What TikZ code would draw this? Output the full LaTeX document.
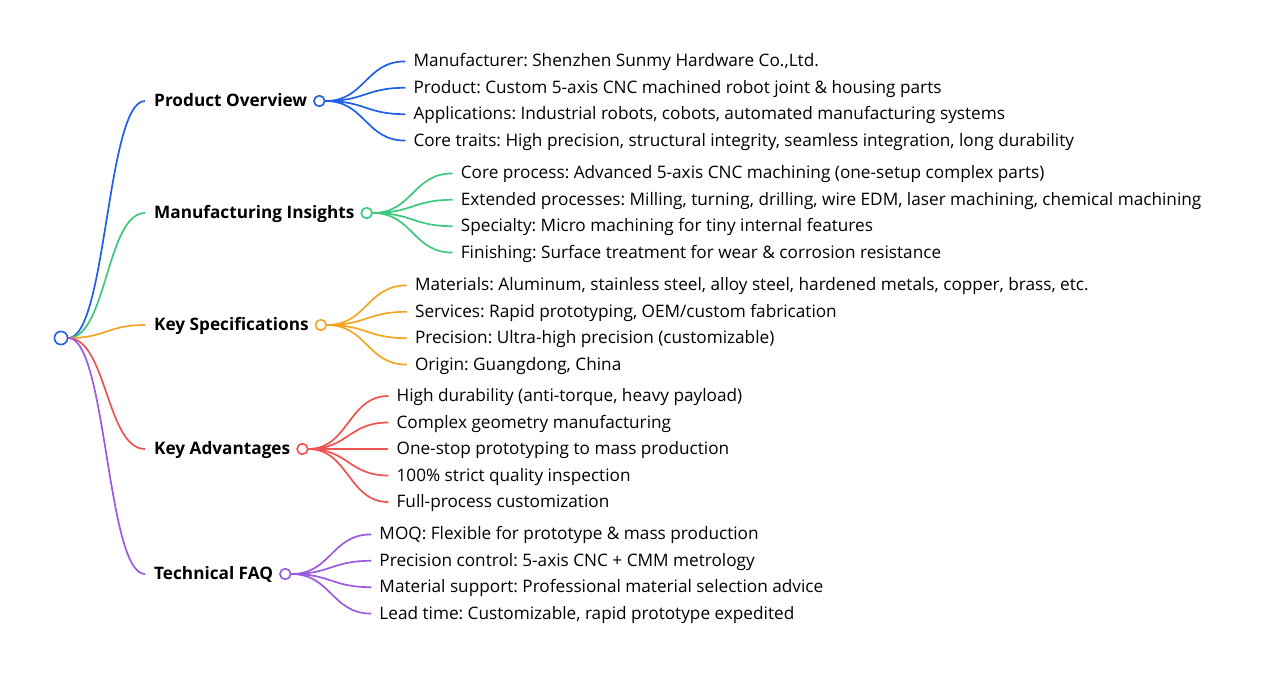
\documentclass[tikz,border=0pt]{standalone}
\usepackage{fontspec}
\setmainfont{Open Sans}
\usetikzlibrary{positioning, calc}
\definecolor{cblue}{HTML}{1F5FE6}
\definecolor{cgreen}{HTML}{3DC97C}
\definecolor{corange}{HTML}{F5A524}
\definecolor{cred}{HTML}{EF5350}
\definecolor{cpurple}{HTML}{9B5BE0}
\frenchspacing
\tikzset{
  topic/.style={anchor=west, inner xsep=9pt, inner ysep=2pt, text height=13.5pt, text depth=2.5pt,
    font=\fontsize{17.2}{20}\selectfont\bfseries},
  leaf/.style={anchor=west, inner xsep=8pt, inner ysep=1pt, text height=13.5pt, text depth=2.5pt,
    font=\fontsize{17.2}{20}\selectfont},
  dot/.style={circle, draw=#1, fill=white, line width=1.5pt, inner sep=0pt, minimum size=10.5pt},
  link/.style={line width=1.7pt, draw=#1},
}
% horizontal s-curve between two anchors
\newcommand{\curvelink}[3]{%
  \draw[#1] let \p1=(#2), \p2=(#3) in
    (\p1) .. controls ({(\x1+\x2)/2},\y1) and ({(\x1+\x2)/2},\y2) .. (\p2);}

\begin{document}
\begin{tikzpicture}[x=1pt, y=-1pt]
\useasboundingbox (0,0) rectangle (1266,676);

% root and main topics
\node[dot=cblue, minimum size=13pt] (root) at (61,338) {};
\node[topic] (po) at (145,101) {Product Overview};
\node[topic] (mi) at (145,213) {Manufacturing Insights};
\node[topic] (ks) at (145,325) {Key Specifications};
\node[topic] (ka) at (145,449) {Key Advantages};
\node[topic] (faq) at (145,574) {Technical FAQ};

\node[dot=cblue, right=-3pt of po] (poc) {};
\node[dot=cgreen, right=-3pt of mi] (mic) {};
\node[dot=corange, right=-3pt of ks] (ksc) {};
\node[dot=cred, right=-3pt of ka] (kac) {};
\node[dot=cpurple, right=-3pt of faq] (faqc) {};

% Product Overview
\node[leaf, right=80pt of poc, yshift=39.6pt] (po1) {Manufacturer: Shenzhen Sunmy Hardware Co.,Ltd.};
\node[leaf, right=80pt of poc, yshift=13.2pt] (po2) {Product: Custom 5-axis CNC machined robot joint \& housing parts};
\node[leaf, right=80pt of poc, yshift=-13.2pt] (po3) {Applications: Industrial robots, cobots, automated manufacturing systems};
\node[leaf, right=80pt of poc, yshift=-39.6pt] (po4) {Core traits: High precision, structural integrity, seamless integration, long durability};

% Manufacturing Insights
\node[leaf, right=80pt of mic, yshift=39.6pt] (mi1) {Core process: Advanced 5-axis CNC machining (one-setup complex parts)};
\node[leaf, right=80pt of mic, yshift=13.2pt] (mi2) {Extended processes: Milling, turning, drilling, wire EDM, laser machining, chemical machining};
\node[leaf, right=80pt of mic, yshift=-13.2pt] (mi3) {Specialty: Micro machining for tiny internal features};
\node[leaf, right=80pt of mic, yshift=-39.6pt] (mi4) {Finishing: Surface treatment for wear \& corrosion resistance};

% Key Specifications
\node[leaf, right=80pt of ksc, yshift=39.6pt] (ks1) {Materials: Aluminum, stainless steel, alloy steel, hardened metals, copper, brass, etc.};
\node[leaf, right=80pt of ksc, yshift=13.2pt] (ks2) {Services: Rapid prototyping, OEM/custom fabrication};
\node[leaf, right=80pt of ksc, yshift=-13.2pt] (ks3) {Precision: Ultra-high precision (customizable)};
\node[leaf, right=80pt of ksc, yshift=-39.6pt] (ks4) {Origin: Guangdong, China};

% Key Advantages
\node[leaf, right=80pt of kac, yshift=53pt] (ka1) {High durability (anti-torque, heavy payload)};
\node[leaf, right=80pt of kac, yshift=26.5pt] (ka2) {Complex geometry manufacturing};
\node[leaf, right=80pt of kac] (ka3) {One-stop prototyping to mass production};
\node[leaf, right=80pt of kac, yshift=-26.5pt] (ka4) {100\% strict quality inspection};
\node[leaf, right=80pt of kac, yshift=-53pt] (ka5) {Full-process customization};

% Technical FAQ
\node[leaf, right=80pt of faqc, yshift=39.6pt] (faq1) {MOQ: Flexible for prototype \& mass production};
\node[leaf, right=80pt of faqc, yshift=13.2pt] (faq2) {Precision control: 5-axis CNC + CMM metrology};
\node[leaf, right=80pt of faqc, yshift=-13.2pt] (faq3) {Material support: Professional material selection advice};
\node[leaf, right=80pt of faqc, yshift=-39.6pt] (faq4) {Lead time: Customizable, rapid prototype expedited};

% links
\foreach \t/\c in {po/cblue, mi/cgreen, ks/corange, ka/cred, faq/cpurple}
  \curvelink{link=\c}{root.east}{\t.west};
\foreach \i in {1,...,4} {
  \curvelink{link=cblue}{poc.east}{po\i.west}
  \curvelink{link=cgreen}{mic.east}{mi\i.west}
  \curvelink{link=corange}{ksc.east}{ks\i.west}
  \curvelink{link=cpurple}{faqc.east}{faq\i.west}
}
\foreach \i in {1,...,5}
  \curvelink{link=cred}{kac.east}{ka\i.west};

% redraw dots over the link ends
\node[dot=cblue, minimum size=13pt] at (root) {};
\foreach \d/\c in {poc/cblue, mic/cgreen, ksc/corange, kac/cred, faqc/cpurple}
  \node[dot=\c] at (\d) {};
\end{tikzpicture}
\end{document}
